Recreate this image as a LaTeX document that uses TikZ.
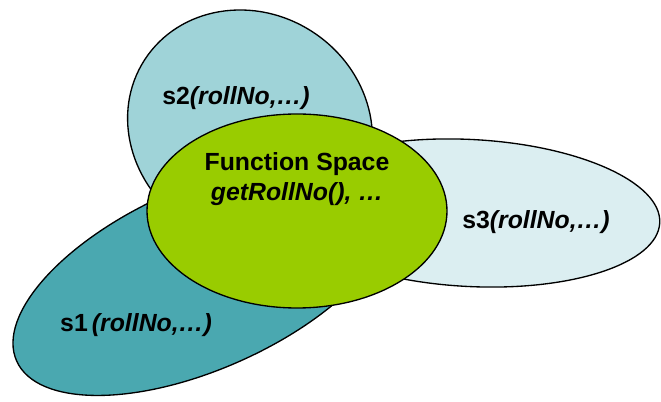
\documentclass[tikz,border=0pt]{standalone}
\usepackage{fontspec}
\setmainfont{Liberation Sans}
\definecolor{sone}{RGB}{74,168,176}
\definecolor{stwo}{RGB}{159,211,216}
\definecolor{sthree}{RGB}{219,238,241}
\definecolor{funspace}{RGB}{153,204,0}
\begin{document}
\begin{tikzpicture}[x=0.75pt,y=-0.75pt,
  set/.style={draw=black,line width=1pt},
  lbl/.style={font=\fontsize{18.6}{23}\selectfont\bfseries}]
\useasboundingbox (0,0) rectangle (661,402);
\draw[set,fill=stwo,rotate around={-33:(250,128)}]
  (250,128) ellipse [x radius=125.5,y radius=114.7];
\draw[set,fill=sthree,rotate around={-3:(470,213)}]
  (470,213) ellipse [x radius=190,y radius=73.5];
\draw[set,fill=sone,rotate around={24:(203,278)}]
  (203,278) ellipse [x radius=204,y radius=91];
\draw[set,fill=funspace] (297,211) ellipse [x radius=150,y radius=97];
\node[lbl] (lbltwo) at (236,98) {s2\textit{(rollNo,…)}};
\node[lbl] (lblthree) at (536,222) {s3\textit{(rollNo,…)}};
\node[lbl] (lblone) at (136,325) {s1\,\textit{(rollNo,…)}};
\node[lbl,align=center] (lblfun) at (297,179)
  {Function Space\\\textit{getRollNo(), …}};
\end{tikzpicture}
\end{document}
